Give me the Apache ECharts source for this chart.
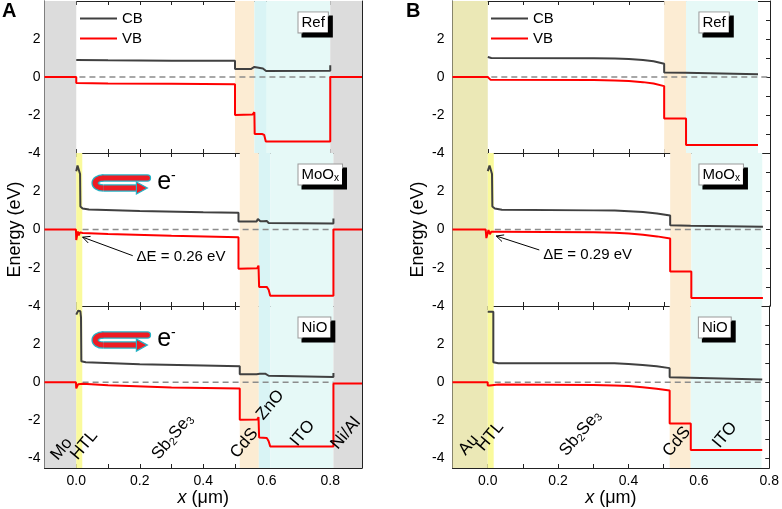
<!DOCTYPE html>
<html lang="en" style="height: 100%">
<head>
    <meta charset="utf-8">
</head>
<body style="height: 100%; margin: 0">
<div id="container" style="height: 100%"></div>

<script type="text/javascript" src="https://fastly.jsdelivr.net/npm/echarts@6.0.0/dist/echarts.min.js"></script>
<script type="text/javascript">
    var FONT = "'Liberation Sans', Arial, sans-serif";

    // ticks and tick labels
    const xTicksA = [-0.1, 0, 0.1, 0.2, 0.3, 0.4, 0.5, 0.6, 0.7, 0.8, 0.9];
    const xTicksB = [-0.1, 0, 0.1, 0.2, 0.3, 0.4, 0.5, 0.6, 0.7, 0.8];
    const xLabels = [0, 0.2, 0.4, 0.6, 0.8];
    const yTicks = [-4, -3, -2, -1, 0, 1, 2, 3];
    const yLabels = [-4, -2, 0, 2];

    // panel A: Mo / HTL / Sb2Se3 / CdS / ZnO / ITO / Ni-Al
    const aRefCB = [[0, 0.9], [0.1, 0.88], [0.3, 0.86], [0.5, 0.85], [0.5, 0.42], [0.55, 0.42], [0.556, 0.5], [0.561, 0.53], [0.566, 0.46], [0.588, 0.45], [0.593, 0.36], [0.598, 0.32], [0.8, 0.33], [0.8, 0.62]];
    const aRefVB = [[-0.1, 0], [0, 0], [0, -0.32], [0.1, -0.34], [0.3, -0.36], [0.5, -0.38], [0.5, -2.0], [0.555, -1.98], [0.561, -1.85], [0.562, -3.0], [0.585, -3.0], [0.592, -3.05], [0.597, -3.4], [0.8, -3.4], [0.8, 0], [0.9, 0]];
    const aMooCB = [[0, 3.05], [0.004, 3.35], [0.008, 3.3], [0.012, 2.9], [0.013, 1.2], [0.02, 1.1], [0.04, 1.05], [0.2, 0.97], [0.4, 0.9], [0.511, 0.87], [0.511, 0.42], [0.568, 0.42], [0.572, 0.55], [0.576, 0.58], [0.58, 0.43], [0.59, 0.43], [0.595, 0.48], [0.6, 0.45], [0.606, 0.34], [0.611, 0.31], [0.81, 0.31], [0.81, 0.58]];
    const aMooVB = [[-0.1, 0], [-0.001, 0], [0, -0.55], [0.003, -0.5], [0.005, -0.1], [0.008, -0.3], [0.012, -0.15], [0.02, -0.18], [0.1, -0.24], [0.3, -0.33], [0.511, -0.4], [0.511, -2.05], [0.57, -2.02], [0.574, -1.89], [0.576, -3.0], [0.6, -3.0], [0.606, -3.15], [0.611, -3.47], [0.81, -3.47], [0.81, 0], [0.9, 0]];
    const aNioCB = [[0, 3.55], [0.006, 3.75], [0.013, 3.72], [0.015, 3.4], [0.016, 1.1], [0.03, 1.05], [0.2, 0.95], [0.4, 0.88], [0.515, 0.84], [0.515, 0.42], [0.568, 0.42], [0.573, 0.5], [0.578, 0.44], [0.595, 0.45], [0.601, 0.5], [0.606, 0.34], [0.611, 0.28], [0.81, 0.28], [0.81, 0.49]];
    const aNioVB = [[-0.1, 0], [-0.001, 0], [0, -0.32], [0.004, -0.28], [0.006, -0.1], [0.02, -0.08], [0.1, -0.16], [0.3, -0.27], [0.515, -0.33], [0.515, -1.97], [0.57, -1.95], [0.574, -1.83], [0.576, -2.9], [0.6, -2.92], [0.606, -3.1], [0.611, -3.37], [0.81, -3.37], [0.81, -0.06], [0.9, -0.06]];

    // panel B: Au / HTL / Sb2Se3 / CdS / ITO
    const bRefCB = [[0, 1.05], [0.01, 1.0], [0.3, 0.99], [0.36, 0.98], [0.4, 0.95], [0.44, 0.9], [0.47, 0.83], [0.5, 0.7], [0.5, 0.24], [0.56, 0.22], [0.563, 0.16], [0.766, 0.15]];
    const bRefVB = [[-0.1, 0], [0, 0], [0, -0.1], [0.008, -0.15], [0.3, -0.16], [0.36, -0.18], [0.4, -0.21], [0.44, -0.27], [0.47, -0.34], [0.5, -0.48], [0.5, -2.18], [0.562, -2.18], [0.562, -3.58], [0.766, -3.58]];
    const bMooCB = [[0, 3.05], [0.005, 3.35], [0.009, 3.3], [0.012, 2.9], [0.013, 1.2], [0.02, 1.1], [0.04, 1.03], [0.3, 1.0], [0.36, 0.99], [0.4, 0.96], [0.44, 0.91], [0.48, 0.84], [0.517, 0.73], [0.517, 0.22], [0.575, 0.2], [0.579, 0.15], [0.78, 0.15]];
    const bMooVB = [[-0.1, 0], [-0.006, 0], [-0.004, -0.45], [-0.001, -0.4], [0.002, -0.03], [0.006, -0.25], [0.01, -0.12], [0.03, -0.12], [0.3, -0.15], [0.36, -0.17], [0.4, -0.21], [0.44, -0.27], [0.48, -0.36], [0.517, -0.47], [0.517, -2.2], [0.577, -2.2], [0.577, -3.58], [0.78, -3.58]];
    const bNioCB = [[0, 3.7], [0.016, 3.7], [0.016, 1.05], [0.03, 1.0], [0.3, 1.0], [0.36, 0.99], [0.4, 0.96], [0.44, 0.91], [0.48, 0.84], [0.517, 0.74], [0.517, 0.26], [0.575, 0.24], [0.579, 0.14], [0.78, 0.14]];
    const bNioVB = [[-0.1, 0], [0, 0], [0, -0.17], [0.006, -0.17], [0.007, -0.1], [0.03, -0.12], [0.3, -0.15], [0.36, -0.17], [0.4, -0.2], [0.44, -0.26], [0.48, -0.34], [0.517, -0.43], [0.517, -2.17], [0.577, -2.17], [0.577, -3.55], [0.78, -3.55]];

    // dashed Fermi level
    const aRefZero = [[0.01, 0], [0.8, 0]];
    const aHtlZero = [[0.02, 0], [0.81, 0]];
    const bRefZero = [[0.01, 0], [0.795, 0]];
    const bHtlZero = [[0.02, 0], [0.776, 0]];

    // layers: [kind, from, to]
    const aRefLayers = [['metal', -0.1, 0], ['cds', 0.5, 0.561], ['zno', 0.561, 0.6], ['ito', 0.6, 0.8], ['metal', 0.8, 0.9]];
    const aHtlLayers = [['metal', -0.1, 0], ['htl', 0, 0.019], ['cds', 0.515, 0.575], ['zno', 0.575, 0.611], ['ito', 0.611, 0.81], ['metal', 0.81, 0.9]];
    const bRefLayers = [['au', -0.1, 0], ['cds', 0.5, 0.562], ['ito', 0.562, 0.766]];
    const bHtlLayers = [['au', -0.1, 0], ['htl', 0, 0.017], ['cds', 0.517, 0.577], ['ito', 0.577, 0.778]];

    const layerColors = {
        metal: '#dcdcdc',
        au: '#ebe8b6',
        htl: '#fafa9c',
        cds: '#fcecd3',
        zno: '#d9f4f5',
        ito: '#e6f9f7'
    };

    // layout
    const panelLeft = { A: 44.5, B: 452.5 };
    const plotWidth = 317.5;
    const rowTop = [1, 153, 306];
    const rowHeight = [152, 153, 162];
    const rowMin = [-4, -4, -4.5];
    const xMax = { A: 0.9, B: 0.8 };
    const yLabelMargin = { A: 4, B: 8 };
    const yNameGap = { A: 19, B: 25 };

    const plots = [
        { panel: 'A', row: 0, tag: 'Ref', cb: aRefCB, vb: aRefVB, zero: aRefZero, layers: aRefLayers },
        { panel: 'A', row: 1, tag: 'MoO{s|x}', cb: aMooCB, vb: aMooVB, zero: aHtlZero, layers: aHtlLayers },
        { panel: 'A', row: 2, tag: 'NiO', cb: aNioCB, vb: aNioVB, zero: aHtlZero, layers: aHtlLayers },
        { panel: 'B', row: 0, tag: 'Ref', cb: bRefCB, vb: bRefVB, zero: bRefZero, layers: bRefLayers },
        { panel: 'B', row: 1, tag: 'MoO{s|x}', cb: bMooCB, vb: bMooVB, zero: bHtlZero, layers: bHtlLayers },
        { panel: 'B', row: 2, tag: 'NiO', cb: bNioCB, vb: bNioVB, zero: bHtlZero, layers: bHtlLayers }
    ];

    // annotations (data coordinates of their grid)
    const tagAt = { A: [0.70, 3.4], B: [0.60, 3.4] };
    const deltaE = [
        { g: 1, text: 'ΔE = 0.26 eV', at: [0.19, -1.44], from: [0.178, -1.37], to: [0.02, -0.4] },
        { g: 4, text: 'ΔE = 0.29 eV', at: [0.157, -1.33], from: [0.146, -1.07], to: [0.024, -0.34] }
    ];
    const electrons = [
        { g: 1, at: [0.054, 2.43], e: [0.255, 2.5] },
        { g: 2, at: [0.054, 2.21], e: [0.255, 2.28] }
    ];
    const SB2SE3 = '{n|Sb}{s|2}{n|Se}{s|3}';
    const layerNames = [
        { g: 2, list: [['Mo', -0.046, -3.5], ['HTL', 0.025, -3.3], [SB2SE3, 0.303, -2.86], ['CdS', 0.529, -3.2], ['ZnO', 0.611, -1.2], ['ITO', 0.713, -2.68], ['Ni/Al', 0.849, -2.68]] },
        { g: 5, list: [['Au', -0.054, -3.29], ['HTL', 0.007, -2.84], [SB2SE3, 0.263, -2.67], ['CdS', 0.537, -3.12], ['ITO', 0.674, -2.77]] }
    ];

    var dom = document.getElementById('container');
    var myChart = echarts.init(dom, null, { renderer: 'canvas' });

    var grid = [], xAxis = [], yAxis = [], series = [];
    var lineCol = '#222';

    plots.forEach(function (p, g) {
        grid.push({ left: panelLeft[p.panel], top: rowTop[p.row], width: plotWidth, height: rowHeight[p.row] });
        var xt = p.panel === 'A' ? xTicksA : xTicksB;
        var bottomRow = p.row === 2;
        ['bottom', 'top'].forEach(function (pos) {
            xAxis.push({
                type: 'value', gridIndex: g, position: pos, min: -0.1, max: xMax[p.panel],
                axisLine: { onZero: false, lineStyle: { color: lineCol, width: 1 } },
                axisTick: { inside: true, length: 4, customValues: xt, lineStyle: { color: lineCol } },
                splitLine: { show: false },
                axisLabel: {
                    show: pos === 'bottom' && bottomRow, customValues: xLabels,
                    formatter: function (v) { return v.toFixed(1); },
                    color: '#000', fontSize: 14, fontFamily: FONT, margin: 6
                },
                name: pos === 'bottom' && bottomRow ? '{i|x} (μm)' : '',
                nameLocation: 'middle', nameGap: 20,
                nameTextStyle: {
                    fontSize: 18, fontFamily: FONT, color: '#000',
                    rich: { i: { fontSize: 18, fontFamily: FONT, fontStyle: 'italic', color: '#000' } }
                }
            });
        });
        ['left', 'right'].forEach(function (pos) {
            yAxis.push({
                type: 'value', gridIndex: g, position: pos, min: rowMin[p.row], max: 4,
                axisLine: { onZero: false, lineStyle: { color: lineCol, width: 1 } },
                axisTick: { inside: true, length: 4, customValues: yTicks, lineStyle: { color: lineCol } },
                splitLine: { show: false },
                axisLabel: {
                    show: pos === 'left', customValues: yLabels,
                    color: '#000', fontSize: 14, fontFamily: FONT, margin: yLabelMargin[p.panel]
                },
                name: pos === 'left' && p.row === 1 ? 'Energy (eV)' : '',
                nameLocation: 'middle', nameGap: yNameGap[p.panel],
                nameTextStyle: { fontSize: 18, fontFamily: FONT, color: '#000' }
            });
        });

        var ax = { xAxisIndex: 2 * g, yAxisIndex: 2 * g };
        series.push(Object.assign({
            type: 'line', name: 'layers' + g, data: [[-0.1, 0]], symbol: 'none',
            lineStyle: { opacity: 0 }, silent: true, z: 0,
            markArea: {
                silent: true,
                data: p.layers.map(function (l) {
                    return [{ xAxis: l[1], itemStyle: { color: layerColors[l[0]] } }, { xAxis: l[2] }];
                })
            }
        }, ax));
        series.push(Object.assign({
            type: 'line', name: 'EF' + g, data: p.zero, symbol: 'none', silent: true, z: 2,
            lineStyle: { color: '#8c8c8c', width: 1.5, type: [6, 4] }
        }, ax));
        series.push(Object.assign({
            type: 'line', name: 'CB', data: p.cb, symbol: 'none', z: 3,
            lineStyle: { color: '#404040', width: 2 }, itemStyle: { color: '#404040' }
        }, ax));
        series.push(Object.assign({
            type: 'line', name: 'VB', data: p.vb, symbol: 'none', z: 4,
            lineStyle: { color: '#ff0000', width: 2 }, itemStyle: { color: '#ff0000' }
        }, ax));
    });

    var legendCommon = {
        data: ['CB', 'VB'], top: 10, orient: 'vertical', icon: 'rect', itemWidth: 37, itemHeight: 2,
        itemGap: 3, padding: 0, selectedMode: false,
        textStyle: { fontSize: 15, fontFamily: FONT, color: '#000', lineHeight: 17 }
    };

    var option = {
        animation: false,
        textStyle: { fontFamily: FONT },
        legend: [
            Object.assign({ left: 80 }, legendCommon),
            Object.assign({ left: 491 }, legendCommon)
        ],
        grid: grid,
        xAxis: xAxis,
        yAxis: yAxis,
        series: series
    };

    myChart.setOption(option);

    // annotations placed through the grid scales
    function px(g, x, y) {
        return myChart.convertToPixel({ gridIndex: g }, [x, y]);
    }

    var graphics = [
        { type: 'text', x: 2, y: 1, style: { text: 'A', font: 'bold 20px ' + FONT, fill: '#000' } },
        { type: 'text', x: 406, y: 1, style: { text: 'B', font: 'bold 20px ' + FONT, fill: '#000' } }
    ];

    plots.forEach(function (p, g) {
        var pt = px(g, tagAt[p.panel][0], tagAt[p.panel][1]);
        graphics.push({
            type: 'text', x: pt[0], y: pt[1], z: 10,
            style: {
                text: p.tag, font: '15px ' + FONT, fill: '#000', lineHeight: 18,
                backgroundColor: '#fff', borderColor: '#999', borderWidth: 1, padding: [1, 3, 1, 3],
                shadowColor: '#000', shadowOffsetX: 4, shadowOffsetY: 4, shadowBlur: 0,
                rich: { s: { fontSize: 10, fontFamily: FONT, verticalAlign: 'bottom', lineHeight: 12 } }
            }
        });
    });

    deltaE.forEach(function (d) {
        var a = px(d.g, d.from[0], d.from[1]);
        var b = px(d.g, d.to[0], d.to[1]);
        var t = px(d.g, d.at[0], d.at[1]);
        var dx = b[0] - a[0], dy = b[1] - a[1];
        var len = Math.sqrt(dx * dx + dy * dy);
        var ux = dx / len, uy = dy / len;
        var h = 8, ang = 0.45;
        var c = Math.cos(ang), s = Math.sin(ang);
        var p1 = [b[0] - h * (ux * c - uy * s), b[1] - h * (uy * c + ux * s)];
        var p2 = [b[0] - h * (ux * c + uy * s), b[1] - h * (uy * c - ux * s)];
        graphics.push({ type: 'line', z: 10, shape: { x1: a[0], y1: a[1], x2: b[0], y2: b[1] }, style: { stroke: '#000', lineWidth: 1 } });
        graphics.push({ type: 'polyline', z: 10, shape: { points: [p1, b, p2] }, style: { stroke: '#000', lineWidth: 1, fill: null } });
        graphics.push({
            type: 'text', x: t[0], y: t[1], z: 10,
            style: { text: d.text, font: '15px ' + FONT, fill: '#000', verticalAlign: 'middle' }
        });
    });

    // the bent electron arrow: upper arm, bend, lower arm, head
    function uArrow(stroke, width) {
        return [
            { type: 'line', shape: { x1: 54, y1: -5, x2: 10, y2: -5 }, style: { stroke: stroke, lineWidth: width, lineCap: 'round' } },
            { type: 'bezierCurve', shape: { x1: 10, y1: -5, cpx1: -1, cpy1: -5, cpx2: -1, cpy2: 5, x2: 10, y2: 5 }, style: { stroke: stroke, lineWidth: width, fill: null } },
            { type: 'line', shape: { x1: 10, y1: 5, x2: 44, y2: 5 }, style: { stroke: stroke, lineWidth: width } }
        ];
    }
    electrons.forEach(function (el) {
        var a = px(el.g, el.at[0], el.at[1]);
        var e = px(el.g, el.e[0], el.e[1]);
        graphics.push({
            type: 'group', x: a[0], y: a[1], z: 10,
            children: uArrow('#26b3c6', 7.5).concat(uArrow('#ee1c24', 5)).concat([
                { type: 'polygon', shape: { points: [[43, -1], [54, 5], [43, 11]] }, style: { fill: '#ee1c24', stroke: '#26b3c6', lineWidth: 1.2 } }
            ])
        });
        graphics.push({
            type: 'text', x: e[0], y: e[1], z: 10,
            style: {
                text: '{e|e}{m|-}', verticalAlign: 'middle', fill: '#000',
                rich: {
                    e: { fontSize: 25, fontFamily: FONT, lineHeight: 26, color: '#000' },
                    m: { fontSize: 14, fontFamily: FONT, lineHeight: 14, verticalAlign: 'top', color: '#000' }
                }
            }
        });
    });

    layerNames.forEach(function (set) {
        set.list.forEach(function (n) {
            var c = px(set.g, n[1], n[2]);
            graphics.push({
                type: 'text', x: c[0], y: c[1], z: 10, rotation: 50 * Math.PI / 180,
                style: {
                    text: n[0], font: '17px ' + FONT, fill: '#000', align: 'center', verticalAlign: 'middle',
                    rich: {
                        n: { fontSize: 17, fontFamily: FONT, lineHeight: 19, color: '#000' },
                        s: { fontSize: 11, fontFamily: FONT, lineHeight: 11, verticalAlign: 'bottom', color: '#000' }
                    }
                }
            });
        });
    });

    myChart.setOption({ graphic: graphics });

    window.addEventListener('resize', myChart.resize);
</script>
</body>
</html>
